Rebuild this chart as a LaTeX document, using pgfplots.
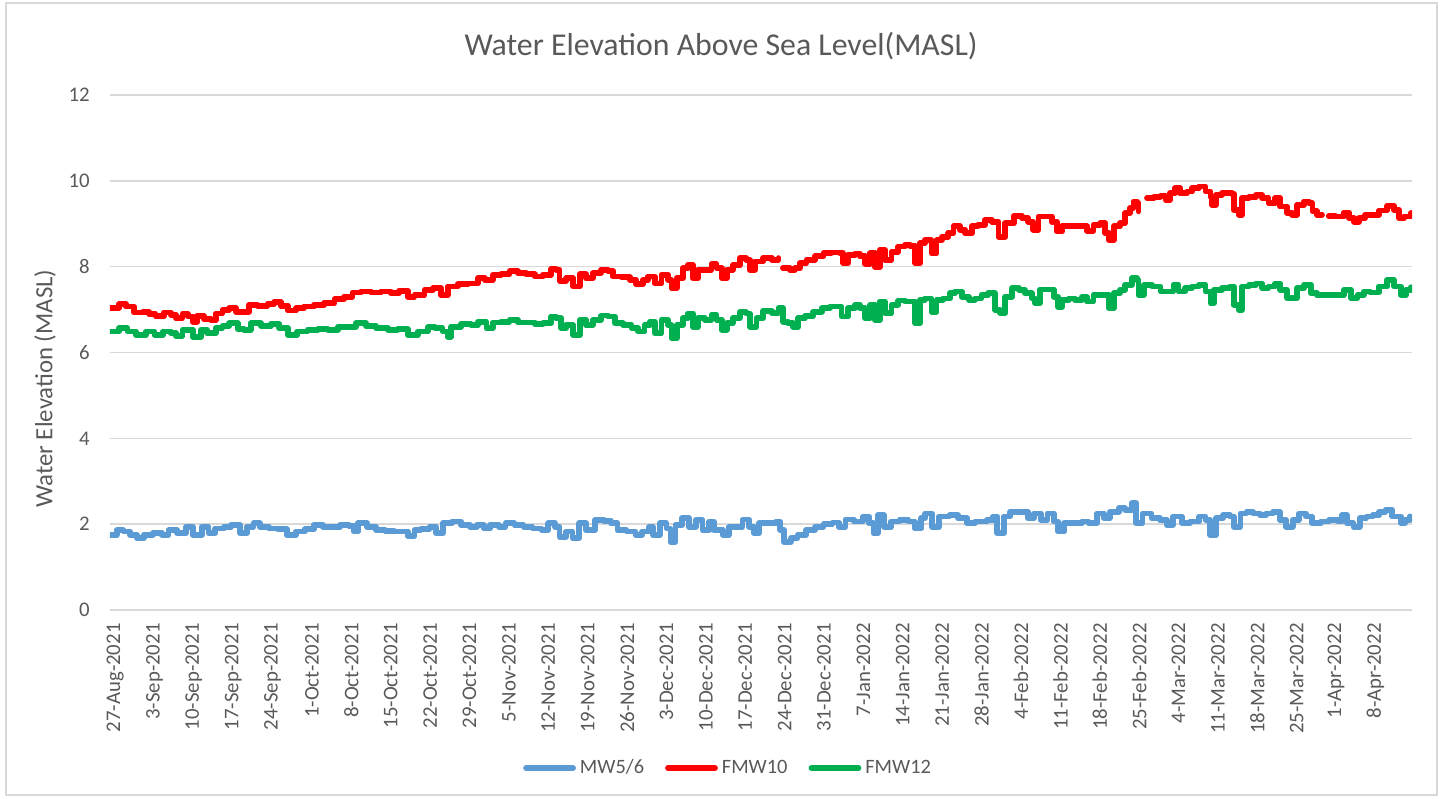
\documentclass[border=0pt]{standalone}
\usepackage{fontspec}
\setmainfont{Carlito}
\usepackage{pgfplots}
\pgfplotsset{compat=1.18}
\definecolor{txt}{HTML}{595959}
\definecolor{gridc}{HTML}{D9D9D9}
\definecolor{cblue}{HTML}{5B9BD5}
\definecolor{cred}{HTML}{FF0000}
\definecolor{cgreen}{HTML}{00B050}
\begin{document}
\begin{tikzpicture}
\path[use as bounding box] (-55pt,-94pt) rectangle (666.5pt,305pt);
\draw[gridc, line width=0.6pt] (-52pt,-92.5pt) rectangle (663.5pt,303.5pt);
\node[font=\fontsize{15.9}{19}\selectfont, text=txt] at (305.5pt,282pt) {Water Elevation Above Sea Level(MASL)};
\begin{axis}[
  at={(0,0)}, anchor=south west,
  scale only axis, width=651pt, height=257.5pt,
  xmin=-0.9, xmax=230.5, ymin=0, ymax=12,
  ytick={0,2,...,12},
  xtick={0,7,...,224},
  xticklabels={27-Aug-2021,3-Sep-2021,10-Sep-2021,17-Sep-2021,24-Sep-2021,1-Oct-2021,8-Oct-2021,15-Oct-2021,22-Oct-2021,29-Oct-2021,5-Nov-2021,12-Nov-2021,19-Nov-2021,26-Nov-2021,3-Dec-2021,10-Dec-2021,17-Dec-2021,24-Dec-2021,31-Dec-2021,7-Jan-2022,14-Jan-2022,21-Jan-2022,28-Jan-2022,4-Feb-2022,11-Feb-2022,18-Feb-2022,25-Feb-2022,4-Mar-2022,11-Mar-2022,18-Mar-2022,25-Mar-2022,1-Apr-2022,8-Apr-2022},
  ymajorgrids, grid style={gridc, line width=0.75pt},
  axis line style={draw=none},
  major tick length=0pt,
  /pgf/number format/assume math mode=true,
  xticklabel style={rotate=90, anchor=east, inner sep=0pt, font=\fontsize{10.4}{12}\selectfont, text=txt},
  xticklabel shift=6.5pt,
  yticklabel style={anchor=east, inner sep=0pt, font=\fontsize{10.4}{12}\selectfont, text=txt},
  yticklabel shift=10pt,
  ylabel={Water Elevation (MASL)},
  every axis y label/.style={at={(axis description cs:-0.0499,0.43)}, rotate=90, anchor=center, font=\fontsize{12.4}{14}\selectfont, text=txt},
  unbounded coords=jump,
  every axis plot/.append style={const plot, line width=2.9pt, line join=round, line cap=round},
  legend columns=3,
  legend style={at={(axis description cs:0.4755,-0.3068)}, anchor=center, draw=none, fill=none, font=\fontsize{10.2}{12}\selectfont, text=txt, nodes={inner xsep=2pt}, /tikz/every even column/.append style={column sep=8.5pt}},
  legend image code/.code={\draw[#1, sharp plot] (0pt,0pt) -- (23.5pt,0pt);},
]
\addplot[cblue] coordinates {
(-0.9,1.75)(0.3,1.86)(1.5,1.83)(2.7,1.75)(3.9,1.67)(5.1,1.75)(6.7,1.79)(8.3,1.75)(9.5,1.86)(11.0,1.79)
(12.6,1.94)(13.8,1.75)(15.4,1.94)(16.6,1.79)(17.8,1.90)(19.4,1.94)(20.6,1.98)(22.2,1.79)(23.4,1.94)(24.6,2.02)
(25.7,1.94)(27.3,1.90)(28.9,1.88)(30.5,1.75)(32.1,1.83)(33.7,1.88)(35.3,1.98)(36.9,1.94)(38.5,1.94)(40.0,1.98)
(41.6,1.96)(42.4,1.83)(43.2,2.02)(44.8,1.94)(46.4,1.86)(48.0,1.85)(49.6,1.83)(51.2,1.83)(52.0,1.72)(53.2,1.86)
(54.3,1.88)(55.9,1.94)(57.1,1.79)(58.3,2.02)(59.9,2.06)(61.5,1.98)(63.1,1.94)(64.3,1.98)(65.5,1.90)(66.7,1.98)
(68.2,1.94)(69.4,2.02)(71.0,1.98)(72.6,1.94)(74.2,1.90)(75.8,1.86)(77.0,2.02)(78.2,1.94)(79.0,1.71)(80.2,1.83)
(81.3,1.67)(82.5,2.02)(83.7,1.86)(85.3,2.10)(86.9,2.08)(88.1,2.02)(89.3,1.86)(90.9,1.83)(92.5,1.75)(93.7,1.83)
(94.9,1.94)(95.6,1.75)(96.8,2.02)(98.0,1.90)(98.7,1.59)(99.6,1.98)(100.8,2.14)(102.0,1.94)(103.2,2.10)(104.4,1.86)
(105.6,2.06)(106.4,1.86)(108.0,1.75)(109.1,1.94)(110.3,1.94)(111.5,2.11)(112.7,1.94)(113.5,1.79)(114.5,2.02)(116.3,2.02)
(117.4,2.06)(118.2,1.86)(118.9,1.59)(120.1,1.67)(121.3,1.75)(122.8,1.86)(124.4,1.94)(125.9,2.00)(127.5,2.04)(128.6,1.94)
(129.8,2.11)(131.3,2.06)(132.9,2.18)(134.0,2.02)(134.8,1.79)(135.6,2.21)(136.7,1.94)(137.9,2.06)(139.4,2.10)(141.0,2.06)
(142.1,1.90)(143.3,2.14)(144.0,2.25)(145.2,1.94)(146.4,2.18)(148.3,2.21)(149.8,2.14)(151.4,2.02)(152.9,2.06)(154.9,2.10)
(156.0,2.18)(156.8,1.79)(158.0,2.18)(159.1,2.29)(160.6,2.29)(162.2,2.14)(163.3,2.25)(164.5,2.10)(165.7,2.25)(166.8,2.06)
(167.6,1.83)(168.7,2.02)(170.3,2.02)(171.8,2.06)(173.0,2.02)(174.5,2.25)(175.7,2.14)(176.8,2.29)(178.4,2.37)(179.5,2.33)
(180.7,2.49)(181.5,2.02)(182.6,2.25)(184.2,2.14)(185.7,2.10)(186.9,1.98)(188.0,2.18)(189.6,2.02)(191.1,2.06)(192.7,2.18)
(193.8,2.10)(194.6,1.75)(195.7,2.14)(196.9,2.21)(198.1,2.18)(198.8,1.94)(200.0,2.25)(201.1,2.29)(202.3,2.25)(203.5,2.21)
(204.6,2.25)(205.8,2.29)(207.0,2.10)(208.1,1.94)(209.3,2.10)(210.4,2.25)(211.6,2.18)(212.7,2.02)(214.3,2.06)(215.8,2.10)
(217.4,2.06)(218.1,2.21)(218.9,2.02)(220.1,1.94)(221.2,2.14)(222.4,2.18)(223.5,2.21)(224.7,2.29)(225.8,2.33)(227.0,2.18)
(228.5,2.02)(229.3,2.10)(230.1,2.18)
};
\addlegendentry{MW5/6}
\addplot[cred] coordinates {
(-0.9,7.04)(0.7,7.13)(1.9,7.07)(3.4,6.93)(4.9,6.95)(6.1,6.90)(7.2,6.85)(8.7,6.93)(9.9,6.88)(10.8,6.80)
(12.0,6.90)(12.9,6.84)(13.8,6.72)(14.6,6.85)(15.8,6.78)(17.0,6.76)(17.9,6.91)(19.1,6.99)(20.3,7.03)(21.5,6.95)
(22.4,6.95)(23.8,7.11)(25.3,7.09)(27.1,7.13)(28.3,7.17)(29.5,7.09)(30.7,6.98)(32.2,7.03)(33.6,7.07)(35.4,7.11)
(37.2,7.15)(39.0,7.24)(40.7,7.30)(42.2,7.40)(43.7,7.42)(45.5,7.40)(47.3,7.42)(49.0,7.38)(50.5,7.44)(52.0,7.30)
(53.2,7.34)(55.0,7.46)(56.5,7.50)(57.9,7.34)(59.1,7.54)(60.9,7.59)(62.7,7.61)(64.5,7.73)(65.7,7.69)(67.1,7.81)
(68.6,7.82)(70.1,7.89)(71.6,7.85)(73.1,7.82)(74.6,7.77)(76.0,7.81)(77.5,7.95)(78.4,7.93)(79.0,7.67)(80.2,7.73)
(81.4,7.54)(82.6,7.82)(83.7,7.73)(84.9,7.85)(86.4,7.93)(87.6,7.90)(88.5,7.77)(90.0,7.75)(91.5,7.69)(92.6,7.59)
(93.8,7.69)(94.7,7.77)(95.9,7.61)(97.1,7.81)(98.3,7.69)(98.9,7.50)(99.8,7.73)(100.9,7.96)(101.8,8.04)(102.7,7.73)
(103.6,7.93)(104.8,7.93)(106.0,8.06)(106.9,7.96)(107.8,7.73)(108.7,7.93)(109.8,8.03)(111.0,8.20)(112.2,8.16)(112.8,7.93)
(113.7,8.12)(115.2,8.20)(116.7,8.16)(117.9,8.20)(118.3,nan)(118.7,7.96)(119.9,7.93)(120.8,7.96)(121.7,8.08)(122.9,8.16)
(124.4,8.24)(125.9,8.31)(127.3,8.33)(128.8,8.31)(129.4,8.08)(130.3,8.27)(131.5,8.30)(132.4,8.24)(133.3,8.07)(134.2,8.31)
(135.1,7.99)(135.9,8.39)(136.8,8.16)(138.0,8.35)(139.2,8.47)(140.4,8.51)(141.3,8.48)(142.2,8.08)(143.1,8.55)(143.9,8.62)
(145.1,8.31)(146.0,8.62)(146.9,8.70)(148.1,8.78)(149.0,8.94)(150.2,8.86)(151.1,8.78)(152.3,8.94)(153.4,8.97)(154.6,9.09)
(155.8,9.05)(157.0,8.70)(158.2,9.01)(159.7,9.18)(161.2,9.13)(162.3,9.05)(163.2,8.86)(164.1,9.17)(165.3,9.17)(166.5,9.05)
(167.4,8.82)(168.3,8.94)(169.5,8.95)(170.6,8.94)(171.8,8.94)(172.7,8.84)(173.9,8.97)(175.1,9.01)(176.0,8.78)(176.6,8.62)
(177.5,8.94)(178.6,9.01)(179.5,9.25)(180.4,9.36)(181.0,9.52)(181.6,9.48)(181.9,9.29)(182.6,nan)(183.4,9.60)(184.6,9.63)
(185.8,9.65)(186.7,9.56)(187.5,9.71)(188.4,9.83)(189.3,9.71)(190.5,9.75)(191.4,9.83)(192.6,9.87)(193.8,9.75)(194.7,9.63)
(195.0,9.44)(195.6,9.67)(196.7,9.71)(197.9,9.71)(198.5,9.70)(198.8,9.32)(199.7,9.21)(200.3,9.60)(201.5,9.62)(202.7,9.67)
(203.9,9.60)(205.0,9.48)(206.2,9.60)(207.1,9.40)(208.3,9.25)(209.2,9.21)(210.1,9.44)(211.3,9.52)(212.2,9.48)(212.8,9.29)
(213.6,9.21)(214.5,9.21)(215.1,nan)(215.7,9.18)(216.9,9.17)(218.4,9.26)(219.3,9.13)(220.2,9.05)(221.1,9.13)(222.2,9.21)
(223.4,9.21)(224.6,9.31)(226.1,9.42)(227.3,9.32)(228.2,9.13)(229.1,9.17)(230.3,9.25)
};
\addlegendentry{FMW10}
\addplot[cgreen] coordinates {
(-0.9,6.49)(0.7,6.57)(2.2,6.49)(3.7,6.41)(5.5,6.49)(7.0,6.41)(8.5,6.49)(9.9,6.45)(10.8,6.39)(12.0,6.53)
(13.2,6.53)(13.8,6.36)(15.3,6.53)(16.4,6.45)(17.9,6.57)(19.1,6.62)(20.3,6.68)(21.8,6.54)(22.9,6.53)(24.1,6.68)
(25.9,6.62)(27.7,6.67)(29.2,6.57)(30.7,6.41)(32.4,6.49)(34.2,6.53)(36.0,6.54)(37.8,6.53)(39.6,6.60)(41.3,6.60)
(42.8,6.68)(44.6,6.62)(46.4,6.57)(48.5,6.53)(50.2,6.54)(52.0,6.41)(53.8,6.49)(55.6,6.59)(56.8,6.57)(58.2,6.49)
(59.1,6.37)(59.7,6.60)(61.5,6.66)(63.3,6.64)(64.5,6.72)(66.0,6.57)(67.1,6.70)(68.6,6.72)(70.1,6.76)(71.6,6.70)
(73.1,6.70)(74.6,6.66)(76.0,6.68)(77.5,6.84)(78.4,6.80)(79.3,6.57)(80.2,6.64)(81.4,6.41)(82.6,6.76)(83.7,6.64)
(84.9,6.76)(86.4,6.86)(87.6,6.84)(88.8,6.68)(90.3,6.64)(91.8,6.57)(93.0,6.49)(94.1,6.64)(95.0,6.72)(95.9,6.45)
(97.1,6.76)(98.3,6.64)(98.9,6.33)(99.8,6.64)(100.9,6.80)(101.8,6.91)(102.7,6.60)(103.6,6.80)(104.8,6.76)(106.0,6.88)
(106.9,6.76)(107.8,6.53)(108.7,6.68)(109.8,6.80)(111.0,6.94)(112.2,6.91)(112.8,6.60)(114.0,6.80)(115.2,6.97)(116.7,6.92)
(117.9,7.03)(118.7,6.72)(119.6,6.68)(120.5,6.60)(121.4,6.80)(122.6,6.85)(124.1,6.95)(125.6,7.03)(127.0,7.07)(128.2,7.07)
(129.1,6.84)(130.3,7.03)(131.5,7.11)(132.4,7.03)(133.3,6.80)(134.2,7.11)(135.1,6.76)(135.9,7.19)(136.8,6.92)(138.0,7.11)
(139.2,7.21)(140.4,7.19)(141.3,7.19)(142.2,6.68)(143.1,7.23)(143.9,7.26)(145.1,6.95)(146.0,7.23)(147.2,7.26)(148.4,7.38)
(149.3,7.42)(150.5,7.30)(151.7,7.23)(152.8,7.26)(154.0,7.34)(155.2,7.38)(156.4,6.99)(157.3,6.92)(158.2,7.30)(159.4,7.50)
(160.6,7.46)(161.7,7.38)(162.9,7.26)(163.5,7.15)(164.4,7.47)(165.6,7.47)(166.8,7.30)(167.6,7.06)(168.3,7.23)(169.5,7.26)
(170.6,7.23)(171.8,7.29)(172.7,7.19)(173.9,7.34)(175.4,7.34)(176.6,7.03)(177.5,7.38)(178.6,7.46)(179.5,7.58)(180.7,7.73)
(181.6,7.69)(181.9,7.34)(182.8,7.58)(184.3,7.54)(185.8,7.42)(187.0,7.42)(188.1,7.58)(189.0,7.42)(190.2,7.50)(191.4,7.54)
(192.6,7.58)(193.8,7.42)(194.7,7.15)(195.3,7.46)(196.7,7.50)(198.2,7.54)(198.8,7.11)(199.7,6.99)(200.3,7.54)(201.5,7.58)
(202.7,7.61)(203.9,7.50)(205.0,7.54)(206.2,7.61)(207.1,7.46)(208.3,7.27)(209.5,7.27)(210.1,7.50)(211.3,7.58)(212.5,7.38)
(213.6,7.34)(215.1,7.34)(216.6,7.34)(218.4,7.46)(219.6,7.27)(220.8,7.34)(221.9,7.42)(223.1,7.40)(224.6,7.54)(226.1,7.69)
(227.3,7.54)(228.5,7.34)(229.4,7.46)(230.3,7.52)
};
\addlegendentry{FMW12}
\end{axis}
\end{tikzpicture}
\end{document}
